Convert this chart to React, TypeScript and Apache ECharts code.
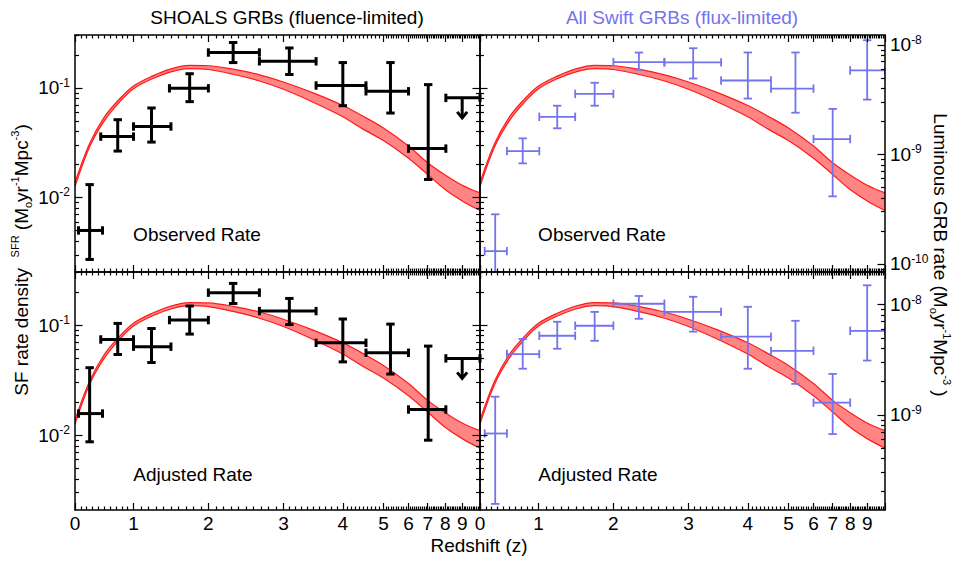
import React, { useEffect, useRef } from 'react';
import * as echarts from 'echarts';

const FONT = '"Liberation Sans", Arial, Helvetica, sans-serif';
const BLUE = '#7373ee';
const RED = '#ff1a1a';
const BAND_FILL = '#ff8585';

// Redshift axis (nonlinear): tick values and their relative positions along the axis
const Z_TICKS = [0, 1, 2, 3, 4, 5, 6, 7, 8, 9, 10];
const Z_TICK_POS = [0, 0.1445, 0.3293, 0.5146, 0.6613, 0.7616, 0.8234, 0.8708, 0.914, 0.956, 1];

// Star formation rate density band (M_sun / yr / Mpc^3)
const BAND_Z = [0, 0.25, 0.5, 0.75, 1.0, 1.25, 1.5, 1.75, 2.0, 2.33, 2.67, 3.0, 3.5, 4.0, 4.5, 5.0, 6.0, 7.0, 8.0, 9.0, 10.0];
const BAND_UPPER = [0.0137, 0.031, 0.054, 0.078, 0.104, 0.128, 0.149, 0.16, 0.159, 0.148, 0.132, 0.113, 0.09, 0.069, 0.055, 0.043, 0.0295, 0.0207, 0.016, 0.0129, 0.011];
const BAND_LOWER = [0.0126, 0.029, 0.05, 0.073, 0.098, 0.121, 0.14, 0.15, 0.147, 0.133, 0.116, 0.097, 0.074, 0.0545, 0.042, 0.033, 0.0228, 0.0162, 0.0118, 0.0093, 0.0076];

// SHOALS GRBs (fluence-limited)
const SHOALS_Z = [0.25, 0.73, 1.24, 1.75, 2.33, 3.1, 4.0, 5.28, 7.03];
const SHOALS_ZLO = [0.06, 0.44, 1.0, 1.48, 2.0, 2.68, 3.55, 4.57, 6.0];
const SHOALS_ZHI = [0.47, 1.0, 1.5, 2.0, 2.68, 3.55, 4.57, 6.0, 8.04];
const SHOALS_OBS = [0.005, 0.0359, 0.0444, 0.099, 0.21, 0.1746, 0.105, 0.093, 0.0279];
const SHOALS_OBS_LO = [0.00272, 0.0265, 0.032, 0.0748, 0.17, 0.1323, 0.0687, 0.0589, 0.0146];
const SHOALS_OBS_HI = [0.0131, 0.0512, 0.0655, 0.1345, 0.259, 0.231, 0.17, 0.17, 0.107];
const SHOALS_ADJ = [0.0157, 0.074, 0.0636, 0.111, 0.197, 0.134, 0.069, 0.056, 0.0171];
const SHOALS_ADJ_LO = [0.0087, 0.054, 0.0457, 0.0828, 0.157, 0.101, 0.0463, 0.0359, 0.009];
const SHOALS_ADJ_HI = [0.041, 0.1035, 0.093, 0.149, 0.239, 0.1745, 0.1135, 0.102, 0.0644];
// Upper limits (highest-redshift bin)
const SHOALS_LIMIT_Z = [9.0];
const SHOALS_LIMIT_ZLO = [8.04];
const SHOALS_LIMIT_ZHI = [10.0];
const SHOALS_OBS_LIMIT = [0.081];
const SHOALS_ADJ_LIMIT = [0.0498];

// All Swift GRBs (flux-limited), luminous GRB rate
const SWIFT_Z = [0.26, 0.73, 1.25, 1.75, 2.34, 3.08, 4.0, 5.28, 7.0, 9.0];
const SWIFT_ZLO = [0.08, 0.46, 1.01, 1.49, 2.0, 2.68, 3.55, 4.57, 6.0, 8.0];
const SWIFT_ZHI = [0.46, 1.01, 1.49, 2.0, 2.68, 3.55, 4.57, 6.0, 8.0, 10.0];
const SWIFT_OBS = [1.31e-10, 1.07e-9, 2.2e-9, 3.56e-9, 6.95e-9, 6.9e-9, 4.72e-9, 3.98e-9, 1.38e-9, 5.83e-9];
const SWIFT_OBS_LO = [5e-11, 8.28e-10, 1.73e-9, 2.78e-9, 5.92e-9, 4.92e-9, 3.23e-9, 2.4e-9, 4.14e-10, 3.16e-9];
const SWIFT_OBS_HI = [2.84e-10, 1.4e-9, 2.78e-9, 4.5e-9, 8.49e-9, 9.3e-9, 8.5e-9, 8.5e-9, 2.6e-9, 1.1e-8];
const SWIFT_ADJ = [6.76e-10, 3.56e-9, 5.22e-9, 6.44e-9, 1.02e-8, 8.6e-9, 5.12e-9, 3.81e-9, 1.29e-9, 5.79e-9];
const SWIFT_ADJ_LO = [1.55e-10, 2.62e-9, 3.98e-9, 4.7e-9, 7.45e-9, 5.69e-9, 2.62e-9, 1.91e-9, 6.68e-10, 3.11e-9];
const SWIFT_ADJ_HI = [1.46e-9, 4.89e-9, 7.0e-9, 8.6e-9, 1.2e-8, 1.18e-8, 9.57e-9, 7.14e-9, 2.35e-9, 1.5e-8];

// Axis ranges (log10 of values)
const LEFT_LOG_RANGE = [-2.68, -0.518];
const RIGHT_LOG_RANGE_OBS = [-10.073, -7.911];
const RIGHT_LOG_RANGE_ADJ = [-9.865, -7.703];

function zToU(z: number): number {
  for (let i = 0; i < Z_TICKS.length - 1; i++) {
    if (z <= Z_TICKS[i + 1]) {
      const t = (z - Z_TICKS[i]) / (Z_TICKS[i + 1] - Z_TICKS[i]);
      return Z_TICK_POS[i] + t * (Z_TICK_POS[i + 1] - Z_TICK_POS[i]);
    }
  }
  return 1;
}

const lg = (v: number) => Math.log10(v);

function logTicks(range: number[]) {
  const majors: number[] = [];
  const minors: number[] = [];
  for (let n = Math.floor(range[0]) - 1; n <= Math.ceil(range[1]); n++) {
    if (n >= range[0] && n <= range[1]) majors.push(n);
    for (let k = 2; k <= 9; k++) {
      const v = n + Math.log10(k);
      if (v >= range[0] && v <= range[1]) minors.push(v);
    }
  }
  return { majors, minors };
}

const AXIS_LINE = { show: true, onZero: false, lineStyle: { color: '#000', width: 1.5 } };
const TICK_STYLE = { color: '#000', width: 1.2 };

function makeXAxes(grid: number, showLabels: boolean) {
  const majors = Z_TICKS.map(zToU);
  const minors: number[] = [];
  for (let i = 1; i < 100; i++) if (i % 10 !== 0) minors.push(zToU(i / 10));
  const base = { type: 'value', gridIndex: grid, min: 0, max: 1, z: 10, splitLine: { show: false } };
  const labelVals = majors.slice(0, 10);
  return [
    {
      ...base, position: 'bottom', axisLine: AXIS_LINE,
      axisTick: { show: true, inside: true, length: 7, customValues: majors, lineStyle: TICK_STYLE },
      axisLabel: {
        show: showLabels, customValues: labelVals, fontSize: 19, fontFamily: FONT, color: '#000', margin: 4,
        formatter: (v: number) => {
          let best = 0;
          for (let i = 0; i < majors.length; i++) if (Math.abs(majors[i] - v) < Math.abs(majors[best] - v)) best = i;
          return String(Z_TICKS[best]);
        },
      },
    },
    {
      ...base, position: 'bottom', axisLine: { show: false, onZero: false },
      axisTick: { show: true, inside: true, length: 3.5, customValues: minors, lineStyle: TICK_STYLE },
      axisLabel: { show: false },
    },
    {
      ...base, position: 'top', axisLine: AXIS_LINE,
      axisTick: { show: true, inside: true, length: 7, customValues: majors, lineStyle: TICK_STYLE },
      axisLabel: { show: false },
    },
    {
      ...base, position: 'top', axisLine: { show: false, onZero: false },
      axisTick: { show: true, inside: true, length: 3.5, customValues: minors, lineStyle: TICK_STYLE },
      axisLabel: { show: false },
    },
  ];
}

const Y_RICH = {
  b: { fontSize: 19, fontFamily: FONT, color: '#000', lineHeight: 22 },
  s: { fontSize: 12, fontFamily: FONT, color: '#000', lineHeight: 12, verticalAlign: 'top' },
};

function makeYAxis(grid: number, pos: string, range: number[], showLabels: boolean, minor: boolean) {
  const t = logTicks(range);
  return {
    type: 'value', gridIndex: grid, position: pos, min: range[0], max: range[1], z: 10,
    splitLine: { show: false },
    axisLine: minor ? { show: false, onZero: false } : AXIS_LINE,
    axisTick: { show: true, inside: true, length: minor ? 4 : 7.5, customValues: minor ? t.minors : t.majors, lineStyle: TICK_STYLE },
    axisLabel: minor || !showLabels ? { show: false } : {
      show: true, customValues: t.majors, margin: 5,
      formatter: (v: number) => `{b|10}{s|${Math.round(v)}}`,
      rich: Y_RICH,
    },
  };
}

function makeYAxes(grid: number, leftRange: number[], rightRange: number[], leftLabels: boolean, rightLabels: boolean) {
  return [
    makeYAxis(grid, 'left', leftRange, leftLabels, false),
    makeYAxis(grid, 'left', leftRange, false, true),
    makeYAxis(grid, 'right', rightRange, rightLabels, false),
    makeYAxis(grid, 'right', rightRange, false, true),
  ];
}

// Band: the upper curve is filled down to the axis start with the band colour,
// then the lower curve is filled down with white, leaving the band between them.
function bandSeries(grid: number) {
  const upper = BAND_Z.map((z, i) => [zToU(z), lg(BAND_UPPER[i])]);
  const lower = BAND_Z.map((z, i) => [zToU(z), lg(BAND_LOWER[i])]);
  const common = {
    type: 'line', xAxisIndex: grid * 4, yAxisIndex: grid * 4,
    symbol: 'none', smooth: 0.35, silent: true, clip: true,
  };
  return [
    { ...common, data: upper, z: 2, lineStyle: { color: RED, width: 1.2 }, areaStyle: { color: BAND_FILL, opacity: 1, origin: 'start' } },
    { ...common, data: lower, z: 3, lineStyle: { color: RED, width: 1.2 }, areaStyle: { color: '#ffffff', opacity: 1, origin: 'start' } },
  ];
}

function errorSeries(grid: number, yOff: number, z: number[], zlo: number[], zhi: number[], v: number[], lo: number[], hi: number[], color: string, lw: number, clip: boolean) {
  const data = z.map((zz, i) => [zToU(zz), lg(v[i]), zToU(zlo[i]), zToU(zhi[i]), lg(lo[i]), lg(hi[i])]);
  return {
    type: 'custom', xAxisIndex: grid * 4, yAxisIndex: grid * 4 + yOff, clip, z: 5, silent: true,
    encode: { x: 0, y: 1 }, data,
    renderItem: (_p: any, api: any) => {
      const c = api.coord([api.value(0), api.value(1)]);
      const l = api.coord([api.value(2), api.value(1)]);
      const h = api.coord([api.value(3), api.value(1)]);
      const b = api.coord([api.value(0), api.value(4)]);
      const t = api.coord([api.value(0), api.value(5)]);
      const st = { stroke: color, lineWidth: lw, lineCap: 'butt' };
      const cap = 4.2;
      const ln = (x1: number, y1: number, x2: number, y2: number) => ({ type: 'line', shape: { x1, y1, x2, y2 }, style: st });
      return {
        type: 'group',
        children: [
          ln(l[0], c[1], h[0], c[1]),
          ln(c[0], t[1], c[0], b[1]),
          ln(l[0], c[1] - cap, l[0], c[1] + cap),
          ln(h[0], c[1] - cap, h[0], c[1] + cap),
          ln(c[0] - cap, t[1], c[0] + cap, t[1]),
          ln(c[0] - cap, b[1], c[0] + cap, b[1]),
        ],
      };
    },
  };
}

function limitSeries(grid: number, v: number[]) {
  const data = SHOALS_LIMIT_Z.map((zz, i) => [zToU(zz), lg(v[i]), zToU(SHOALS_LIMIT_ZLO[i]), zToU(SHOALS_LIMIT_ZHI[i])]);
  return {
    type: 'custom', xAxisIndex: grid * 4, yAxisIndex: grid * 4, clip: false, z: 5, silent: true,
    encode: { x: 0, y: 1 }, data,
    renderItem: (_p: any, api: any) => {
      const c = api.coord([api.value(0), api.value(1)]);
      const l = api.coord([api.value(2), api.value(1)]);
      const h = api.coord([api.value(3), api.value(1)]);
      const st = { stroke: '#000', lineWidth: 3, lineCap: 'butt' };
      const cap = 4.2;
      const len = 20;
      const ln = (x1: number, y1: number, x2: number, y2: number) => ({ type: 'line', shape: { x1, y1, x2, y2 }, style: st });
      return {
        type: 'group',
        children: [
          ln(l[0], c[1], h[0], c[1]),
          ln(l[0], c[1] - cap, l[0], c[1] + cap),
          ln(h[0], c[1] - cap, h[0], c[1] + cap),
          ln(c[0], c[1], c[0], c[1] + len - 1),
          { type: 'polyline', shape: { points: [[c[0] - 5, c[1] + len - 6], [c[0], c[1] + len], [c[0] + 5, c[1] + len - 6]] }, style: { stroke: '#000', lineWidth: 3, fill: 'none' } },
        ],
      };
    },
  };
}

const TEXT_RICH = {
  a: { fontSize: 19, fontFamily: FONT, color: '#000', lineHeight: 24 },
  sub: { fontSize: 11, fontFamily: FONT, color: '#000', lineHeight: 11, verticalAlign: 'bottom' },
  sfr: { fontSize: 11, fontFamily: FONT, color: '#000', lineHeight: 17, verticalAlign: 'top' },
  sup: { fontSize: 11, fontFamily: FONT, color: '#000', lineHeight: 11, verticalAlign: 'top' },
};

function label(x: number, y: number, text: string, fill = '#000') {
  return { type: 'text', x, y, z: 100, silent: true, style: { text, fill, fontSize: 19, fontFamily: FONT, align: 'center', verticalAlign: 'middle' } };
}

export default function App() {
  const ref = useRef<HTMLDivElement>(null);
  useEffect(() => {
    if (!ref.current) return;
    const chart = echarts.init(ref.current, undefined, { renderer: 'svg' });
    const grids = [
      { left: 75, top: 35, width: 405, height: 237 },
      { left: 480, top: 35, width: 405, height: 237 },
      { left: 75, top: 272, width: 405, height: 238 },
      { left: 480, top: 272, width: 405, height: 238 },
    ].map((g) => ({ ...g, containLabel: false, outerBoundsMode: 'none' }));

    const xAxis = [
      ...makeXAxes(0, false),
      ...makeXAxes(1, false),
      ...makeXAxes(2, true),
      ...makeXAxes(3, true),
    ];
    const yAxis = [
      ...makeYAxes(0, LEFT_LOG_RANGE, LEFT_LOG_RANGE, true, false),
      ...makeYAxes(1, LEFT_LOG_RANGE, RIGHT_LOG_RANGE_OBS, false, true),
      ...makeYAxes(2, LEFT_LOG_RANGE, LEFT_LOG_RANGE, true, false),
      ...makeYAxes(3, LEFT_LOG_RANGE, RIGHT_LOG_RANGE_ADJ, false, true),
    ];

    const series: any[] = [
      ...bandSeries(0), ...bandSeries(1), ...bandSeries(2), ...bandSeries(3),
      errorSeries(0, 0, SHOALS_Z, SHOALS_ZLO, SHOALS_ZHI, SHOALS_OBS, SHOALS_OBS_LO, SHOALS_OBS_HI, '#000', 3, false),
      errorSeries(2, 0, SHOALS_Z, SHOALS_ZLO, SHOALS_ZHI, SHOALS_ADJ, SHOALS_ADJ_LO, SHOALS_ADJ_HI, '#000', 3, false),
      limitSeries(0, SHOALS_OBS_LIMIT),
      limitSeries(2, SHOALS_ADJ_LIMIT),
      errorSeries(1, 2, SWIFT_Z, SWIFT_ZLO, SWIFT_ZHI, SWIFT_OBS, SWIFT_OBS_LO, SWIFT_OBS_HI, BLUE, 1.8, true),
      errorSeries(3, 2, SWIFT_Z, SWIFT_ZLO, SWIFT_ZHI, SWIFT_ADJ, SWIFT_ADJ_LO, SWIFT_ADJ_HI, BLUE, 1.8, true),
    ];

    const graphic: any[] = [
      label(287, 17, 'SHOALS GRBs (fluence-limited)'),
      label(682, 17, 'All Swift GRBs (flux-limited)', BLUE),
      label(197, 234, 'Observed Rate'),
      label(602, 234, 'Observed Rate'),
      label(193, 474, 'Adjusted Rate'),
      label(598, 474, 'Adjusted Rate'),
      label(479, 545, 'Redshift (z)'),
      {
        type: 'text', x: 21, y: 260, z: 100, rotation: Math.PI / 2, silent: true,
        style: {
          text: '{a|SF rate density  }{sfr|SFR}{a| (M}{sub|o}{a|yr}{sup|-1}{a|Mpc}{sup|-3}{a|)}',
          rich: TEXT_RICH, align: 'center', verticalAlign: 'middle',
        },
      },
      {
        type: 'text', x: 940, y: 255, z: 100, rotation: -Math.PI / 2, silent: true,
        style: {
          text: '{a|Luminous GRB rate (M}{sub|o}{a|yr}{sup|-1}{a|Mpc}{sup|-3}{a| )}',
          rich: TEXT_RICH, align: 'center', verticalAlign: 'middle',
        },
      },
    ];

    chart.setOption({
      animation: false,
      backgroundColor: '#fff',
      grid: grids,
      xAxis,
      yAxis,
      series,
      graphic,
    });
    return () => chart.dispose();
  }, []);
  return <div ref={ref} style={{ position: 'absolute', left: 0, top: 0, width: 954, height: 561 }} />;
}
